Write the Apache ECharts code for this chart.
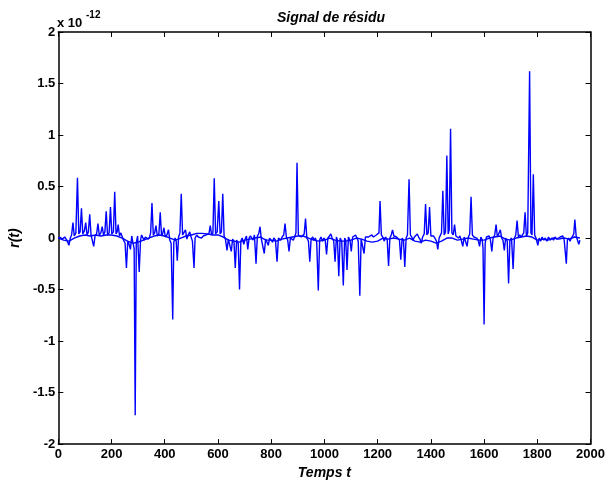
<!DOCTYPE html>
<html>
<head>
<meta charset="utf-8">
<script src="https://cdn.jsdelivr.net/npm/echarts@6/dist/echarts.min.js"></script>
<style>
html,body{margin:0;padding:0;background:#fff;}
#c{width:608px;height:485px;}
</style>
</head>
<body>
<div id="c"></div>
<script>
// values in units of 1e-12
var xTicks = [0,200,400,600,800,1000,1200,1400,1600,1800,2000];
var yTicks = [-2,-1.5,-1,-0.5,0,0.5,1,1.5,2];
var exponentLabel = '-12';

var residuA = [[0,0.0],[8,0.005],[16,-0.01],[24,0.01],[32,-0.02],[40,-0.07],[45,0.0],[50,0.03],[55,0.15],[60,0.02],[66,0.05],[72,0.585],[77,0.04],[82,0.06],[87,0.29],[92,0.04],[98,0.07],[103,0.15],[108,0.03],[113,0.06],[118,0.23],[123,0.03],[128,0.02],[133,-0.08],[138,0.02],[144,0.04],[149,0.14],[154,0.03],[160,0.05],[165,0.11],[170,0.03],[175,0.06],[180,0.26],[185,0.03],[191,0.05],[196,0.30],[201,0.04],[207,0.06],[212,0.45],[217,0.04],[221,0.06],[225,0.13],[230,0.02],[235,0.05],[240,0.05],[245,-0.02],[251,-0.05],[256,-0.29],[261,-0.03],[266,-0.06],[271,-0.11],[276,0.02],[280,-0.04],[285,-0.1],[289,-1.72],[293,-0.05],[298,0.02],[304,-0.33],[309,-0.02],[313,0.03],[317,0.02],[322,-0.02],[327,0.01],[333,0.0],[338,-0.01],[343,0.01],[347,0.05],[352,0.34],[357,0.03],[362,0.05],[367,0.12],[372,0.02],[378,0.04],[383,0.25],[388,0.02],[392,0.04],[397,0.10],[402,0.01],[408,0.03],[414,0.08],[419,-0.02],[424,-0.05],[430,-0.79],[434,-0.04],[439,0.0],[443,-0.03],[447,-0.22],[452,0.01],[457,0.05],[462,0.43],[467,0.03],[472,0.02],[478,0.08],[483,-0.01],[488,0.03],[494,0.06],[499,0.01],[504,-0.03],[510,-0.29],[514,0.0],[520,0.03],[526,0.01],[532,0.02],[538,0.0],[545,0.02],[550,0.01],[556,0.03],[562,0.02],[566,0.04],[571,0.12],[576,0.03],[581,0.05],[586,0.58],[591,0.04],[597,0.06],[603,0.36],[608,0.04],[613,0.06],[618,0.43],[623,0.02],[628,-0.01],[634,-0.12],[639,-0.01],[644,0.0],[650,-0.13],[655,-0.01],[660,-0.03],[665,-0.29],[670,-0.02],[676,-0.05],[681,-0.50],[686,-0.03],[691,0.0],[697,-0.06],[702,-0.01],[707,0.02],[712,-0.11],[717,0.0],[722,0.02],[727,0.0],[732,-0.02],[737,0.03],[743,-0.25],[748,0.02],[753,0.04],[758,0.11],[763,-0.01],[769,-0.02],[774,-0.15],[779,-0.01],[784,0.0],[789,-0.07],[794,0.0],[800,0.01],[805,-0.04],[810,0.0],[816,-0.02],[822,-0.23],[827,0.0],[831,0.01],[836,-0.02],[841,0.01],[847,0.03],[852,0.14],[857,0.01],[862,-0.02],[867,-0.13],[872,0.0],[878,0.01],[883,-0.02],[888,0.01],[893,0.05],[897,0.73],[902,0.03],[907,0.02],[913,0.01],[918,0.01],[924,0.04],[929,0.19],[934,0.0],[940,-0.03],[945,-0.23],[950,-0.01],[956,0.01],[961,-0.02],[966,0.0],[971,-0.04],[977,-0.51],[982,-0.02],[987,0.01],[993,-0.03],[998,0.0],[1003,-0.02],[1008,-0.16],[1013,0.0],[1019,0.02],[1024,0.04],[1029,0.0],[1035,-0.03],[1040,-0.23],[1045,0.01],[1049,-0.02],[1054,-0.37],[1059,0.0],[1065,-0.03],[1071,-0.46],[1076,0.0],[1080,-0.02],[1085,-0.31],[1090,0.01],[1096,-0.02],[1101,-0.13],[1106,0.01],[1112,0.02],[1117,0.03],[1122,0.0],[1127,-0.03],[1133,-0.56],[1138,-0.01],[1143,0.0],[1149,-0.15],[1154,0.01],[1160,0.02],[1166,0.01],[1172,0.02],[1178,0.03],[1184,0.01],[1190,0.02],[1195,0.03],[1200,0.02],[1205,0.05],[1209,0.36],[1214,0.03],[1219,0.01],[1225,-0.03],[1230,0.01],[1236,-0.02],[1241,-0.27],[1246,0.0],[1251,0.03],[1256,0.08],[1261,0.02],[1266,0.03],[1271,0.01],[1276,0.02],[1282,-0.02],[1287,-0.21],[1292,0.0],[1297,-0.02],[1302,-0.28],[1307,0.0],[1312,0.03],[1318,0.57],[1323,0.03],[1328,0.01],[1333,-0.02],[1338,0.01],[1344,0.02],[1349,0.04],[1354,0.01],[1359,-0.01],[1364,-0.05],[1369,0.01],[1375,0.04],[1380,0.33],[1385,0.03],[1390,0.05],[1395,0.30],[1400,0.02],[1405,0.01],[1410,0.02],[1415,0.0],[1421,-0.03],[1426,-0.11],[1431,0.0],[1436,0.01],[1440,0.05],[1445,0.46],[1450,0.03],[1455,0.06],[1460,0.80],[1465,0.04],[1469,0.08],[1474,1.06],[1479,0.05],[1484,0.03],[1489,0.13],[1494,0.02],[1499,0.01],[1504,0.0],[1509,0.02],[1514,-0.02],[1520,-0.08],[1525,0.01],[1530,0.0],[1536,-0.08],[1541,0.01],[1546,0.04],[1551,0.40],[1556,0.03],[1562,0.01],[1567,0.02],[1572,0.0],[1578,-0.02],[1583,-0.08],[1588,0.01],[1593,-0.02],[1596,-0.1],[1600,-0.84],[1604,-0.05],[1609,0.01],[1614,0.0],[1619,0.02],[1624,-0.02],[1629,-0.13],[1634,0.0],[1640,0.03],[1645,0.13],[1650,0.01],[1655,0.02],[1661,0.08],[1666,0.0],[1671,-0.02],[1676,-0.12],[1681,0.0],[1687,-0.03],[1692,-0.44],[1697,-0.02],[1703,0.0],[1709,-0.30],[1714,0.0],[1719,0.03],[1724,0.17],[1729,0.01],[1734,0.03],[1739,0.01],[1744,0.03],[1749,0.05],[1754,0.25],[1759,0.02],[1764,0.05],[1771,1.62],[1776,0.05],[1780,0.03],[1785,0.62],[1790,0.03],[1795,0.0],[1802,-0.07],[1807,0.0],[1813,-0.03],[1818,0.01],[1824,-0.02],[1830,0.0],[1836,-0.03],[1842,0.01],[1849,-0.02],[1855,0.0],[1861,-0.02],[1867,0.01],[1873,-0.01],[1880,0.0],[1886,0.01],[1892,0.0],[1896,0.02],[1901,-0.02],[1905,-0.03],[1909,-0.25],[1913,-0.02],[1918,0.0],[1923,-0.03],[1928,0.0],[1933,0.02],[1937,0.04],[1941,0.18],[1946,0.02],[1951,0.01],[1956,-0.06],[1960,-0.02]];

var residuB = [[0,0.0],[20,-0.02],[40,-0.03],[60,0.0],[80,0.02],[100,0.03],[120,0.02],[140,0.03],[160,0.02],[180,0.03],[200,0.03],[220,0.02],[240,0.0],[260,-0.03],[280,-0.05],[300,-0.04],[320,-0.02],[340,0.0],[360,0.02],[380,0.03],[400,0.02],[420,0.0],[440,-0.02],[460,0.0],[480,0.02],[500,0.03],[520,0.045],[540,0.045],[560,0.04],[580,0.03],[600,0.03],[620,0.01],[640,-0.02],[660,-0.03],[680,-0.04],[700,-0.02],[720,-0.01],[740,0.0],[760,0.01],[780,-0.02],[800,-0.02],[820,-0.03],[840,-0.01],[860,0.0],[880,0.01],[900,0.02],[920,0.02],[940,0.0],[960,-0.02],[980,-0.03],[1000,-0.02],[1020,0.0],[1040,-0.02],[1060,-0.03],[1080,-0.03],[1100,-0.02],[1120,0.0],[1140,-0.01],[1160,-0.03],[1180,-0.04],[1200,-0.03],[1220,0.0],[1240,-0.01],[1260,0.0],[1280,-0.01],[1300,-0.02],[1320,0.0],[1340,-0.03],[1360,-0.04],[1380,-0.02],[1400,-0.03],[1420,-0.05],[1440,-0.03],[1460,0.0],[1480,0.0],[1500,-0.02],[1520,-0.01],[1540,0.0],[1560,-0.01],[1580,-0.02],[1600,-0.02],[1620,0.0],[1640,0.01],[1660,0.02],[1680,-0.01],[1700,-0.02],[1720,0.0],[1740,0.01],[1760,0.02],[1780,0.01],[1800,-0.02],[1820,-0.01],[1840,-0.02],[1860,0.0],[1880,-0.01],[1900,0.0],[1920,-0.01],[1940,0.01],[1960,0.0]];

var chart = echarts.init(document.getElementById('c'), null, {renderer:'canvas', width:608, height:485});
var FONT = 'Liberation Sans, Arial, sans-serif';
var axLine = {show:true, onZero:false, lineStyle:{color:'#000', width:1.5}};
var tick = {show:true, inside:true, length:5, lineStyle:{color:'#000', width:1}};
var lbl = {color:'#000', fontFamily:FONT, fontWeight:'bold', fontSize:13};
var nameStyle = {fontFamily:FONT, fontWeight:'bold', fontStyle:'italic', fontSize:14, color:'#000'};
function plain(v){ return String(v); }

chart.setOption({
  animation:false,
  backgroundColor:'#fff',
  title:{text:'Signal de résidu', left:326, top:6, textAlign:'center', textStyle:nameStyle},
  grid:{left:57, right:13, top:32, bottom:29, containLabel:false},
  graphic:[
    {type:'text', left:57, top:17, style:{text:'x 10', fontFamily:FONT, fontWeight:'bold', fontSize:13, fill:'#000'}},
    {type:'text', left:86, top:10, style:{text:exponentLabel, fontFamily:FONT, fontWeight:'bold', fontSize:10, fill:'#000'}}
  ],
  xAxis:[
    {type:'value', min:xTicks[0], max:xTicks[xTicks.length-1], interval:200, position:'bottom',
     axisLine:axLine, axisTick:tick, splitLine:{show:false},
     axisLabel:Object.assign({margin:4, formatter:plain}, lbl),
     name:'Temps t', nameLocation:'middle', nameGap:19, nameTextStyle:nameStyle},
    {type:'value', min:xTicks[0], max:xTicks[xTicks.length-1], interval:200, position:'top',
     axisLine:axLine, axisTick:tick, splitLine:{show:false}, axisLabel:{show:false}}
  ],
  yAxis:[
    {type:'value', min:yTicks[0], max:yTicks[yTicks.length-1], interval:0.5, position:'left',
     axisLine:axLine, axisTick:tick, splitLine:{show:false},
     axisLabel:Object.assign({margin:3, formatter:plain}, lbl),
     name:'r(t)', nameLocation:'middle', nameGap:30, nameRotate:90, nameTextStyle:nameStyle},
    {type:'value', min:yTicks[0], max:yTicks[yTicks.length-1], interval:0.5, position:'right',
     axisLine:axLine, axisTick:tick, splitLine:{show:false}, axisLabel:{show:false}}
  ],
  series:[
    {type:'line', data:residuB, showSymbol:false, symbol:'none', lineStyle:{color:'#0000ff', width:1.4}, silent:true},
    {type:'line', data:residuA, showSymbol:false, symbol:'none', lineStyle:{color:'#0000ff', width:1.4}, silent:true}
  ]
});
</script>
</body>
</html>
